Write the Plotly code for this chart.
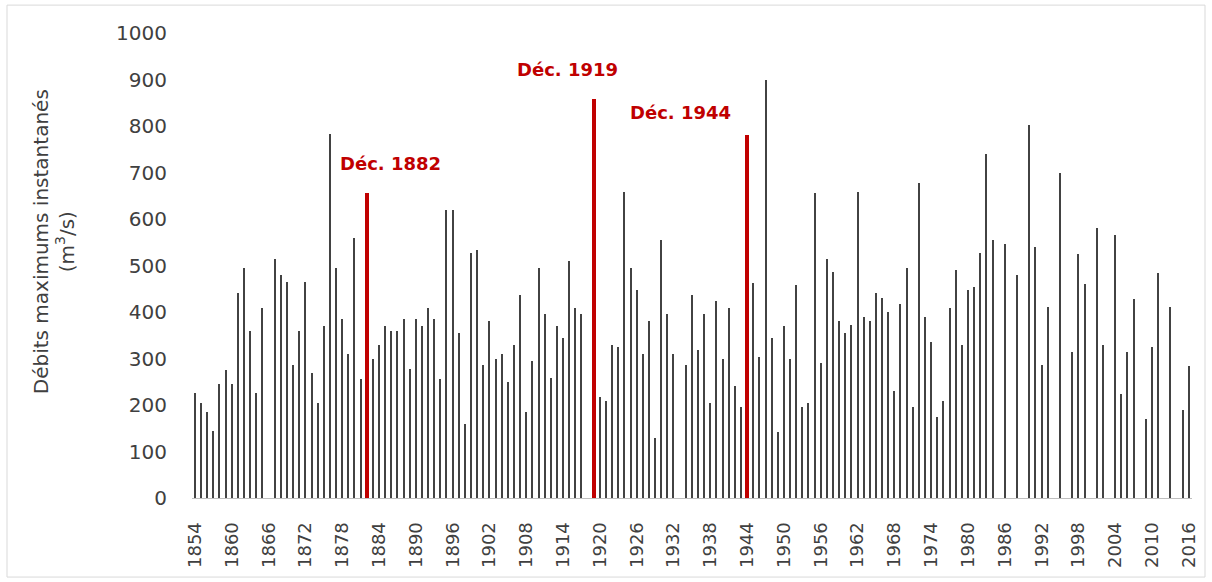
import plotly.graph_objects as go

# ---- data ----
years = list(range(1854, 2017))
peak_flow = [
    225, 204, 185, 144, 245, 275, 245, 440, 495, 359,      # 1854-1863
    225, 409, None, 513, 480, 464, 285, 359, 464, 268,     # 1864-1873
    204, 370, 783, 495, 386, 309, 559, 255, 655, 300,      # 1874-1883
    330, 370, 359, 359, 384, 277, 384, 370, 409, 384,      # 1884-1893
    255, 619, 619, 354, 159, 527, 534, 285, 381, 300,      # 1894-1903
    309, 250, 330, 436, 185, 295, 495, 395, 259, 370,      # 1904-1913
    345, 509, 409, 395, None, 858, 218, 209, 330, 325,     # 1914-1923
    658, 495, 448, 309, 381, 130, 554, 395, 309, None,     # 1924-1933
    285, 436, 318, 395, 204, 423, 300, 409, 240, 195,      # 1934-1943
    781, 463, 304, 899, 345, 141, 370, 300, 459, 195,      # 1944-1953
    204, 655, 290, 514, 486, 381, 354, 373, 658, 390,      # 1954-1963
    381, 440, 431, 400, 230, 418, 495, 195, 677, 390,      # 1964-1973
    335, 175, 209, 409, 490, 330, 448, 454, 527, 740,      # 1974-1983
    554, None, 547, None, 479, None, 803, 539, 285, 411,   # 1984-1993
    None, 699, None, 314, 524, 461, None, 580, 328, None,  # 1994-2003
    566, 223, 314, 428, None, 170, 325, 484, None, 411,    # 2004-2013
    None, 190, 283,                                        # 2014-2016
]
highlight_years = [1882, 1919, 1944]
highlight_labels = ["Déc. 1882", "Déc. 1919", "Déc. 1944"]
label_xshift = [24, -26, -67]
label_yshift = [30, 30, 22]
tick_years = list(range(1854, 2017, 6))
y_title = "Débits maximums instantanés<br>(m<sup>3</sup>/s)"

RED = "#C00000"
GRAY = "#424242"
TXT = "#404040"
FONT = "DejaVu Sans"

lookup = dict(zip(years, peak_flow))
gray_vals = [None if y in highlight_years else v for y, v in zip(years, peak_flow)]
red_vals = [lookup[y] for y in highlight_years]

fig = go.Figure()
fig.add_trace(go.Bar(x=years, y=gray_vals, width=0.2,
                     marker=dict(color=GRAY, line=dict(width=0)),
                     hoverinfo="x+y", showlegend=False))
fig.add_trace(go.Bar(x=highlight_years, y=red_vals, width=0.68,
                     marker=dict(color=RED, line=dict(width=0)),
                     hoverinfo="x+y", showlegend=False))

for yr, lab, dx, dy in zip(highlight_years, highlight_labels, label_xshift, label_yshift):
    fig.add_annotation(x=yr, y=lookup[yr], xref="x", yref="y", text=f"<b>{lab}</b>",
                       showarrow=False, xshift=dx, yshift=dy, yanchor="middle",
                       font=dict(family=FONT, size=18, color=RED))

fig.add_annotation(x=-0.138, y=0.55, xref="paper", yref="paper", text=y_title,
                   textangle=-90, showarrow=False, xanchor="center", yanchor="middle",
                   font=dict(family=FONT, size=20, color=TXT))

fig.add_shape(type="rect", xref="paper", yref="paper",
              x0=-0.185, x1=1.013, y0=-0.170, y1=1.060,
              line=dict(color="#D9D9D9", width=1), fillcolor="rgba(0,0,0,0)", layer="below")

fig.update_layout(
    width=1212, height=582, autosize=False,
    margin=dict(l=192, r=20, t=33, b=84),
    paper_bgcolor="white", plot_bgcolor="white",
    barmode="overlay", bargap=0,
    font=dict(family=FONT, color=TXT),
)
fig.update_xaxes(range=[1853.5, 2016.5], tickvals=tick_years,
                 ticktext=[str(t) for t in tick_years], tickangle=-90,
                 tickfont=dict(family=FONT, size=18, color=TXT),
                 showgrid=False, zeroline=False, showline=True, linecolor="#BFBFBF",
                 linewidth=1, ticks="", ticklabelstandoff=16)
fig.update_yaxes(range=[0, 1000], dtick=100, tickfont=dict(family=FONT, size=20, color=TXT),
                 showgrid=False, zeroline=False, showline=False, ticks="",
                 ticklabelstandoff=24)

fig.write_html(
    "out.html",
    config={"displayModeBar": False},
    post_script="document.body.style.margin='0';document.body.style.overflow='hidden';",
)
